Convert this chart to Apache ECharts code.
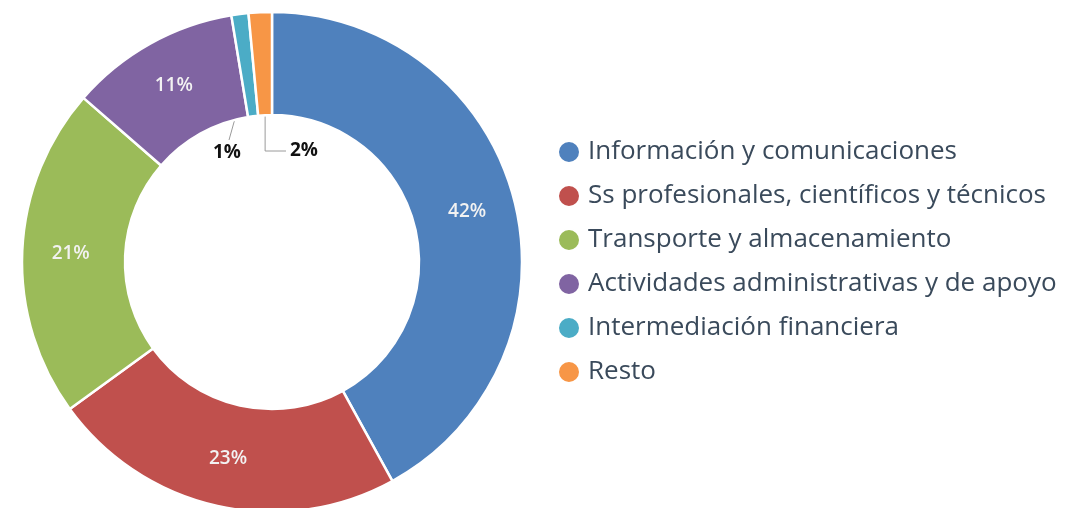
<!DOCTYPE html>
<html>
<head>
<meta charset="utf-8">
<script src="https://cdn.jsdelivr.net/npm/echarts@6/dist/echarts.min.js"></script>
<style>
  html, body { margin: 0; padding: 0; background: #fff; }
  #chart { width: 1066px; height: 508px; }
</style>
</head>
<body>
<div id="chart"></div>
<script>
const categories = [
  'Información y comunicaciones',
  'Ss profesionales, científicos y técnicos',
  'Transporte y almacenamiento',
  'Actividades administrativas y de apoyo',
  'Intermediación financiera',
  'Resto'
];
const shares = [42.0, 23.0, 21.4, 11.0, 1.1, 1.5];
const colors = ['#4f81bd', '#c0504d', '#9bbb59', '#8064a2', '#4bacc6', '#f79646'];

const chart = echarts.init(document.getElementById('chart'));

const cx = 272, cy = 262, r0 = 147, r1 = 250;
const total = shares.reduce((a, b) => a + b, 0);

// point on the ring at the middle angle of slice i (clockwise from top)
function midPoint(i, r) {
  let before = 0;
  for (let k = 0; k < i; k++) before += shares[k];
  const a = (before + shares[i] / 2) / total * 2 * Math.PI;
  return [cx + r * Math.sin(a), cy - r * Math.cos(a)];
}

// small slices get their label pulled into the hole, with a guide line
const smallLabelPos = {
  4: { x: cx - 45, y: cy - 109 },
  5: { x: cx + 32, y: cy - 111 }
};

const data = categories.map((name, i) => {
  const item = { name: name, value: shares[i], itemStyle: { color: colors[i] } };
  if (smallLabelPos[i]) {
    item.label = {
      position: 'outside',
      color: '#111',
      fontWeight: 'bold',
      fontSize: 19
    };
    item.labelLine = { show: true, length: 4, length2: 4, lineStyle: { color: '#9a9a9a', width: 1 } };
  }
  return item;
});

chart.setOption({
  animation: false,
  legend: {
    orient: 'vertical',
    left: 552,
    top: 134,
    icon: 'circle',
    itemWidth: 22,
    itemHeight: 22,
    itemGap: 18,
    selectedMode: false,
    textStyle: {
      fontFamily: 'Open Sans',
      fontSize: 26,
      lineHeight: 22,
      color: '#3a4a5b',
      padding: [0, 0, 0, 3]
    },
    data: categories
  },
  series: [{
    type: 'pie',
    center: [cx, cy],
    radius: [r0, r1],
    startAngle: 90,
    clockwise: true,
    avoidLabelOverlap: false,
    itemStyle: { borderColor: '#fff', borderWidth: 2.5 },
    label: {
      show: true,
      position: 'inside',
      formatter: p => Math.round(p.value) + '%',
      color: '#f2f2f2',
      fontFamily: 'Open Sans',
      fontWeight: 600,
      fontSize: 19
    },
    labelLine: { show: false },
    labelLayout: function (p) {
      const pos = smallLabelPos[p.dataIndex];
      if (!pos) return {};
      let pts;
      if (p.dataIndex === 4) {
        const s = midPoint(4, 190);
        const e = [pos.x + 2, pos.y - 13];
        pts = [s, [(s[0] + e[0]) / 2, (s[1] + e[1]) / 2], e];
      } else {
        const s = midPoint(5, r0 - 1);
        pts = [s, [s[0], pos.y], [pos.x - 18, pos.y]];
      }
      return { x: pos.x, y: pos.y, align: 'center', verticalAlign: 'middle', labelLinePoints: pts };
    },
    emphasis: { disabled: true },
    data: data
  }]
});
</script>
</body>
</html>
